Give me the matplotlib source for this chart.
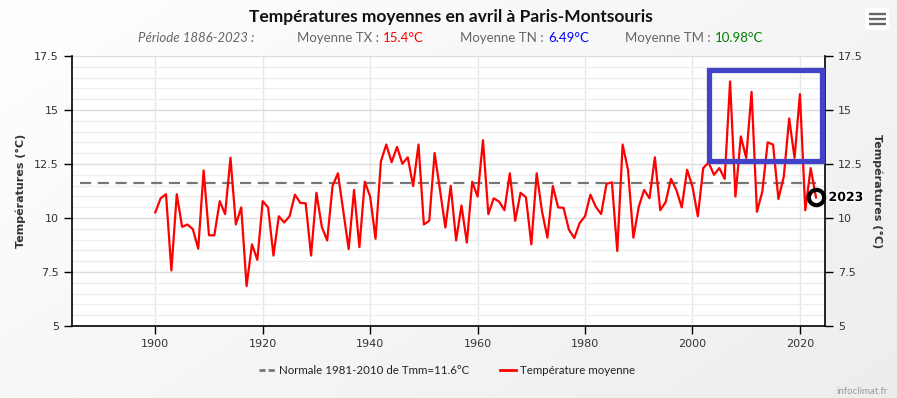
import numpy as np
import matplotlib
matplotlib.use("Agg")
import matplotlib.pyplot as plt
from matplotlib.lines import Line2D
from matplotlib.patches import Rectangle, FancyBboxPatch
import matplotlib.patheffects as pe

years = list(range(1900, 2024))
tmoy = [10.26, 10.91, 11.10, 7.57, 11.10, 9.59, 9.70, 9.48, 8.58, 12.20,
        9.20, 9.20, 10.78, 10.18, 12.79, 9.70, 10.49, 6.85, 8.78, 8.06,
        10.78, 10.49, 8.26, 10.08, 9.79, 10.08, 11.08, 10.70, 10.68, 8.26,
        11.17, 9.59, 8.96, 11.48, 12.07, 10.32, 8.56, 11.30, 8.65, 11.68,
        10.99, 9.04, 12.62, 13.40, 12.58, 13.29, 12.51, 12.81, 11.48, 13.40,
        9.70, 9.87, 13.01, 11.30, 9.56, 11.49, 8.96, 10.58, 8.86, 11.68,
        10.99, 13.60, 10.18, 10.91, 10.76, 10.36, 12.07, 9.87, 11.17, 10.96,
        8.78, 12.07, 10.29, 9.09, 11.48, 10.49, 10.47, 9.46, 9.07, 9.77,
        10.08, 11.08, 10.52, 10.18, 11.58, 11.65, 8.47, 13.40, 12.23, 9.09,
        10.52, 11.30, 10.91, 12.81, 10.36, 10.73, 11.81, 11.30, 10.49, 12.23,
        11.45, 10.08, 12.31, 12.57, 12.00, 12.31, 11.81, 16.32, 10.99, 13.78,
        12.78, 15.84, 10.29, 11.22, 13.50, 13.40, 10.88, 11.92, 14.61, 12.78,
        15.73, 10.36, 12.31, 10.95]
normale = 11.6
normale_years = [1886, 2023]
highlight_box = [2003.0, 12.66, 2024.2, 16.83]  # x0, y0, x1, y1
x_ticks = [1900, 1920, 1940, 1960, 1980, 2000, 2020]
y_ticks = [5, 7.5, 10, 12.5, 15, 17.5]
y_tick_labels = ["5", "7.5", "10", "12.5", "15", "17.5"]

W, H = 897, 398
fig = plt.figure(figsize=(W / 100, H / 100), dpi=100)
FONT = ["Lato", "DejaVu Sans"]

# background gradient
bg = fig.add_axes([0, 0, 1, 1], zorder=-10)
gx, gy = np.meshgrid(np.linspace(0, 1, 200), np.linspace(0, 1, 100))
grad = 1.0 - 0.07 * (0.6 * gx + 0.4 * gy)
bg.imshow(np.dstack([grad, grad, grad]), aspect="auto", extent=[0, 1, 0, 1], origin="upper")
bg.set_axis_off()

ax = fig.add_axes([72 / W, 1 - 326 / H, (825 - 72) / W, (326 - 56) / H])
ax.set_facecolor("white")
ax.set_xlim(1884.5, 2024.67)
ax.set_ylim(5, 17.5)

ax.set_yticks(np.arange(5, 17.51, 0.5), minor=True)
ax.set_yticks(y_ticks)
ax.set_yticklabels(y_tick_labels)
ax.set_xticks(x_ticks)
ax.grid(axis="y", which="major", color="#dddddd", lw=1)
ax.grid(axis="y", which="minor", color="#eeeeee", lw=1)
ax.grid(axis="x", which="major", color="#e6e6e6", lw=1)
ax.set_axisbelow(True)
ax.tick_params(axis="y", which="minor", length=0)
ax.tick_params(axis="both", which="major", direction="out", length=6, width=1,
               colors="black", labelcolor="#333333", labelsize=8)
ax.tick_params(axis="y", left=True, right=True, labelleft=True, labelright=True)
for s in ["left", "right", "bottom"]:
    ax.spines[s].set_color("black")
    ax.spines[s].set_linewidth(1.2)
ax.spines["top"].set_visible(False)

ax.plot(normale_years, [normale, normale], color="#777777", lw=1.6,
        dashes=(5, 3), zorder=3)
ax.plot(years, tmoy, color="#ff0000", lw=1.6, zorder=4)

ax.plot([years[-1]], [tmoy[-1]], marker="o", ms=11, mfc="none", mec="black",
        mew=3, zorder=6, clip_on=False)
ax.annotate(str(years[-1]), (years[-1], tmoy[-1]), xytext=(9, 0),
            textcoords="offset points", va="center", ha="left",
            fontsize=9, fontweight="bold", color="black",
            path_effects=[pe.withStroke(linewidth=2, foreground="white")],
            annotation_clip=False, zorder=7)

x0, y0, x1, y1 = highlight_box
ax.add_patch(Rectangle((x0, y0), x1 - x0, y1 - y0, fill=False,
                       edgecolor="#4343c8", lw=3.8, zorder=8, clip_on=False))

ax.set_ylabel("Températures (°C)", fontsize=8, fontweight="bold", color="#333333",
              labelpad=6)
ax.text(1.07, 0.5, "Températures (°C)", transform=ax.transAxes, rotation=270,
        ha="center", va="center", fontsize=8, fontweight="bold", color="#333333")

fig.text(451 / W, 1 - 17 / H, "Températures moyennes en avril à Paris-Montsouris",
         ha="center", va="center", fontsize=12.5, fontweight="bold",
         family=FONT, color="#111111")

ys = 1 - 38 / H
fig.text(138 / W, ys, "Période 1886-2023 :", ha="left", va="center", fontsize=9.5,
         color="#666666", style="italic", family=FONT)
labels = [(383, "Moyenne TX :", "15.4°C", "#ff0000"),
          (548, "Moyenne TN :", "6.49°C", "#0000ff"),
          (715, "Moyenne TM :", "10.98°C", "#008000")]
for px, lab, val, c in labels:
    fig.text((px - 4) / W, ys, lab, ha="right", va="center", fontsize=9.5,
             color="#666666", family=FONT)
    fig.text(px / W, ys, val, ha="left", va="center", fontsize=9.5,
             color=c, family=FONT)

handles = [Line2D([], [], color="#777777", lw=2, dashes=(2.2, 1.1)),
           Line2D([], [], color="#ff0000", lw=2)]
fig.legend(handles, ["Normale 1981-2010 de Tmm=11.6°C", "Température moyenne"],
           loc="center", bbox_to_anchor=(447 / W, 1 - 371 / H), ncol=2,
           frameon=False, handlelength=1.4, handletextpad=0.4,
           columnspacing=2.6, labelcolor="#222222", prop={"family": FONT, "size": 8.3})

fig.text(888 / W, 1 - 391 / H, "infoclimat.fr", ha="right", va="center",
         fontsize=7, color="#999999", family=FONT)

# menu button
mb = fig.add_axes([865 / W, 1 - 30 / H, 24 / W, 22 / H])
mb.set_xlim(0, 24); mb.set_ylim(0, 22); mb.set_axis_off()
mb.add_patch(FancyBboxPatch((0, 0), 24, 22,
                            boxstyle="round,pad=0,rounding_size=3",
                            fc="white", ec="none"))
for yy in [6, 11, 16]:
    mb.plot([4, 21], [yy, yy], color="#666666", lw=1.7, solid_capstyle="butt")

fig.savefig("out.png", dpi=100)
